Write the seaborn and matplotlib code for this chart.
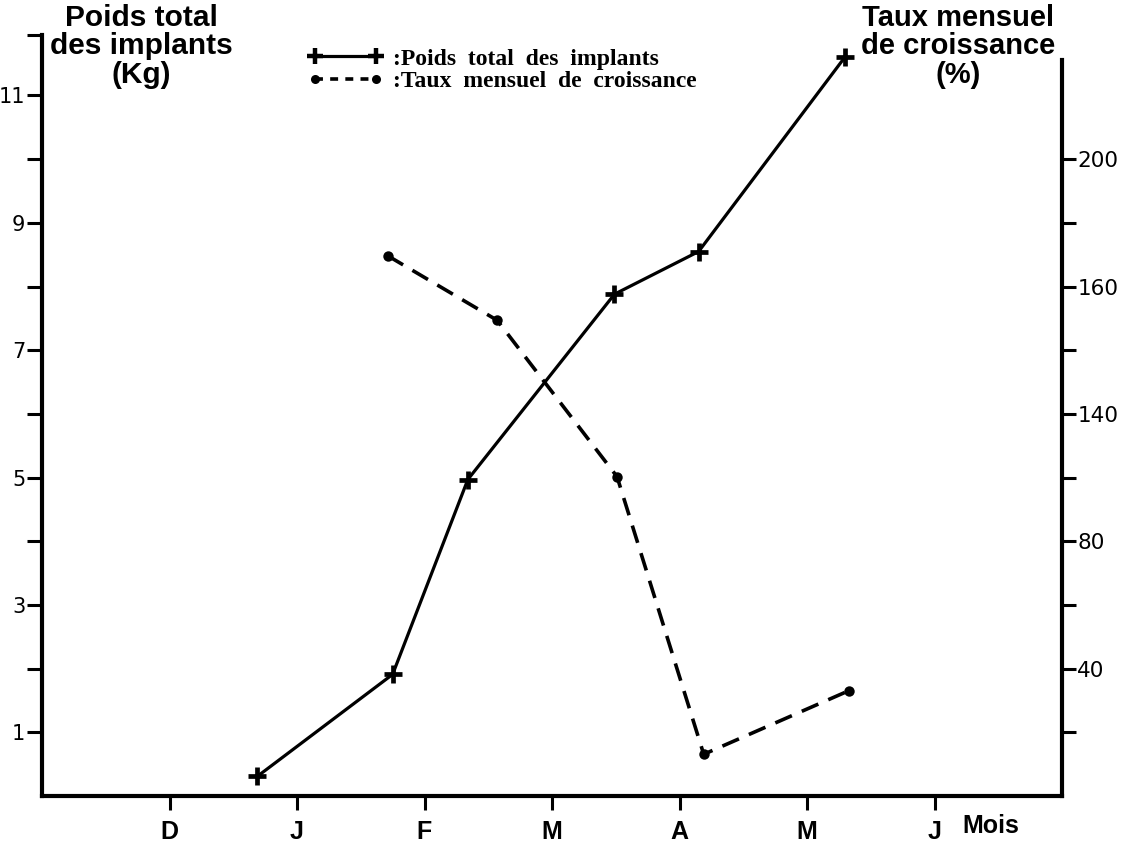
import matplotlib
matplotlib.use('Agg')
import matplotlib.pyplot as plt
import seaborn as sns
from matplotlib.lines import Line2D

# ---- data ----
months = ['D', 'J', 'F', 'M', 'A', 'M', 'J']
month_pos = [1, 2, 3, 4, 5, 6, 7]
poids_x = [1.69, 2.75, 3.34, 4.49, 5.15, 6.30]
poids_y = [0.31, 1.91, 4.97, 7.88, 8.55, 11.61]
taux_x = [2.71, 3.57, 4.51, 5.19, 6.33]
taux_y = [169.7, 149.4, 100.3, 13.1, 33.1]
left_ticks = [1, 2, 3, 4, 5, 6, 7, 8, 9, 10, 11]
left_labels = ['1', '', '3', '', '5', '', '7', '', '9', '', '11']
right_ticks = [20, 40, 60, 80, 100, 120, 140, 160, 180, 200]
right_labels = ['', '40', '', '80', '', '140', '', '160', '', '200']

sns.set_style('ticks')
plt.rcParams['font.family'] = ['Liberation Sans', 'DejaVu Sans']
plt.rcParams.update({'text.color': 'black', 'axes.labelcolor': 'black',
                     'xtick.color': 'black', 'ytick.color': 'black',
                     'axes.edgecolor': 'black'})

W, H = 1124, 846
fig = plt.figure(figsize=(W / 100, H / 100), dpi=100)
L, R, B, T = 42, 1062, 796, 35
ax = fig.add_axes([L / W, 1 - B / H, (R - L) / W, (B - T) / H])
ax2 = ax.twinx()

YMAX = 11.95
ax.set_xlim(0, 8)
ax.set_ylim(0, YMAX)
ax2.set_ylim(0, YMAX * 20)

sns.lineplot(x=poids_x, y=poids_y, ax=ax, color='black', lw=2.3,
             marker='+', markersize=13, markeredgewidth=3.4,
             markeredgecolor='black', markerfacecolor='black',
             sort=False, estimator=None)
sns.lineplot(x=taux_x, y=taux_y, ax=ax2, color='black', lw=2.6,
             linestyle=(0, (5, 3)), marker='o', markersize=7.5,
             markeredgewidth=0, markerfacecolor='black',
             sort=False, estimator=None)

# spines
for s in ['top', 'right']:
    ax.spines[s].set_visible(False)
for s in ['top', 'left', 'bottom']:
    ax2.spines[s].set_visible(False)
ax.spines['left'].set_linewidth(3)
ax.spines['bottom'].set_linewidth(3)
ax2.spines['right'].set_linewidth(3)
ax2.spines['right'].set_bounds(0, 231)

# ticks
ax.set_xticks(month_pos)
ax.set_xticklabels(months, fontsize=18, fontweight='bold',
                   family=['Liberation Sans Narrow', 'Liberation Sans'])
ax.tick_params(axis='x', direction='out', length=10, width=2.2, pad=7)
ax.set_yticks(left_ticks + [YMAX])
ax.set_yticklabels(left_labels + [''], fontsize=15, family=['DejaVu Sans'])
ax.tick_params(axis='y', direction='out', length=11, width=2.2, pad=1)
ax2.set_yticks(right_ticks)
ax2.set_yticklabels(right_labels, fontsize=15.5, family=['DejaVu Sans'])
ax2.tick_params(axis='y', direction='out', length=10, width=2.2, pad=1)

# axis titles
fig.text(141 / W, 1 - 4 / H, 'Poids total\ndes implants\n(Kg)', ha='center',
         va='top', fontsize=21.5, fontweight='bold', linespacing=1.02)
fig.text(958 / W, 1 - 4 / H, 'Taux mensuel\nde croissance\n(%)', ha='center',
         va='top', fontsize=21, fontweight='bold', linespacing=1.02)
fig.text(962 / W, 1 - 826 / H, 'Mois', ha='left', va='center',
         fontsize=18, fontweight='bold',
         family=['Liberation Sans Narrow', 'Liberation Sans'])

# legend
h1 = Line2D([], [], color='black', lw=2.3, marker='+', markersize=12,
            markeredgewidth=3.2)
h2 = Line2D([], [], color='black', lw=2.6, linestyle=(0, (2.2, 2)),
            marker='o', markersize=6.5, markeredgewidth=0)
leg = ax.legend([h1, h2],
                [':Poids  total  des  implants', ':Taux  mensuel  de  croissance'],
                loc='upper left', bbox_to_anchor=(308 / W, 1 - 48 / H),
                bbox_transform=fig.transFigure, frameon=False, numpoints=2,
                handlelength=3.2, handletextpad=0.4, labelspacing=0.05,
                borderpad=0, borderaxespad=0,
                prop={'family': 'Liberation Serif', 'weight': 'bold', 'size': 17})

fig.savefig('out.png', dpi=100)
